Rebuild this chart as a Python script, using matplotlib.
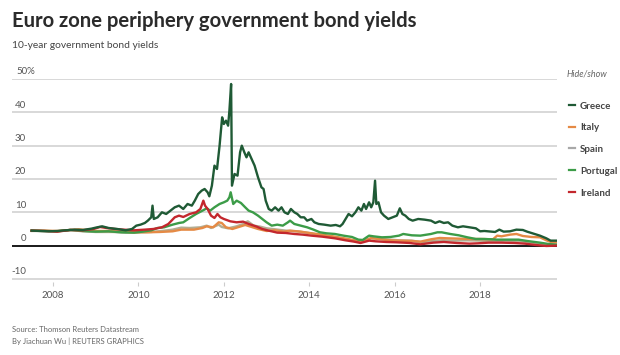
import matplotlib
matplotlib.use("Agg")
import matplotlib.pyplot as plt
from matplotlib.lines import Line2D

# ================= data (decimal years / % yield) =================
greece_x = [2007.50, 2007.70, 2007.90, 2008.10, 2008.30, 2008.50, 2008.70, 2008.90, 2009.00, 2009.15,
            2009.30, 2009.50, 2009.70, 2009.85, 2009.95, 2010.05, 2010.15, 2010.22, 2010.30, 2010.33,
            2010.36, 2010.45, 2010.55, 2010.65, 2010.75, 2010.85, 2010.95, 2011.05, 2011.15, 2011.25,
            2011.32, 2011.40, 2011.48, 2011.55, 2011.62, 2011.66, 2011.72, 2011.78, 2011.84, 2011.90,
            2011.96, 2012.00, 2012.05, 2012.10, 2012.13, 2012.17, 2012.19, 2012.25, 2012.32, 2012.38,
            2012.42, 2012.48, 2012.53, 2012.58, 2012.65, 2012.72, 2012.80, 2012.88, 2012.93, 2012.98,
            2013.05, 2013.12, 2013.20, 2013.28, 2013.35, 2013.42, 2013.50, 2013.57, 2013.65, 2013.72,
            2013.80, 2013.88, 2013.95, 2014.05, 2014.12, 2014.22, 2014.35, 2014.50, 2014.62, 2014.72,
            2014.78, 2014.85, 2014.92, 2015.00, 2015.08, 2015.15, 2015.22, 2015.28, 2015.33, 2015.40,
            2015.45, 2015.50, 2015.54, 2015.57, 2015.62, 2015.68, 2015.75, 2015.85, 2015.95, 2016.05,
            2016.12, 2016.18, 2016.25, 2016.33, 2016.42, 2016.55, 2016.70, 2016.85, 2016.95, 2017.05,
            2017.15, 2017.25, 2017.35, 2017.48, 2017.60, 2017.75, 2017.90, 2018.00, 2018.10, 2018.25,
            2018.35, 2018.45, 2018.55, 2018.70, 2018.85, 2019.00, 2019.10, 2019.25, 2019.40, 2019.55,
            2019.65, 2019.78]
greece_y = [4.5, 4.4, 4.3, 4.4, 4.6, 4.8, 4.7, 5.1, 5.4, 5.8,
            5.3, 5.0, 4.6, 5.0, 6.0, 6.3, 6.8, 7.5, 8.5, 12.0,
            8.0, 8.5, 10.0, 9.5, 10.5, 11.5, 12.0, 11.0, 12.5, 12.0,
            13.5, 15.5, 16.5, 17.0, 16.0, 14.8, 18.0, 24.0, 23.0, 30.0,
            38.5, 36.5, 37.5, 36.0, 40.5, 48.5, 18.0, 21.5, 21.0, 28.0,
            30.0, 28.0, 26.5, 28.0, 26.0, 24.0, 20.5, 17.5, 17.0, 13.5,
            11.0, 10.5, 11.5, 10.5, 11.5, 10.0, 9.5, 11.0, 10.0, 9.5,
            8.5, 8.5, 7.5, 8.0, 7.0, 6.5, 6.3, 6.0, 6.2, 5.8,
            6.5, 8.0, 9.5, 8.8, 10.0, 11.5, 10.5, 12.5, 11.0, 13.0,
            11.5, 13.0, 19.5, 12.5, 13.0, 10.0, 9.0, 8.0, 8.5, 9.0,
            11.2, 9.5, 9.0, 8.0, 7.5, 8.0, 7.8, 7.5, 6.8, 7.3,
            6.8, 7.0, 6.0, 5.5, 5.8, 5.5, 5.2, 4.3, 4.4, 4.2,
            4.1, 4.8, 4.2, 4.3, 4.8, 4.7, 4.2, 3.6, 3.0, 2.2,
            1.5, 1.5]

italy_x = [2007.50, 2007.80, 2008.10, 2008.40, 2008.60, 2008.85, 2009.00, 2009.30, 2009.60, 2009.90,
           2010.20, 2010.50, 2010.80, 2011.00, 2011.30, 2011.50, 2011.60, 2011.75, 2011.88, 2011.95,
           2012.05, 2012.20, 2012.35, 2012.50, 2012.60, 2012.80, 2013.00, 2013.20, 2013.40, 2013.55,
           2013.80, 2014.00, 2014.30, 2014.60, 2014.90, 2015.10, 2015.25, 2015.45, 2015.60, 2015.90,
           2016.10, 2016.40, 2016.60, 2016.85, 2017.05, 2017.25, 2017.50, 2017.75, 2018.00, 2018.30,
           2018.40, 2018.50, 2018.70, 2018.85, 2019.00, 2019.20, 2019.40, 2019.55, 2019.68, 2019.78]
italy_y = [4.5, 4.5, 4.4, 4.7, 4.9, 4.6, 4.4, 4.4, 4.2, 4.0,
           4.0, 4.1, 4.3, 4.8, 4.8, 5.3, 5.8, 5.5, 7.0, 6.8,
           5.5, 5.0, 5.6, 6.2, 5.8, 5.0, 4.4, 4.6, 4.2, 4.5,
           4.2, 3.8, 3.3, 2.7, 2.0, 1.5, 1.3, 2.3, 2.0, 1.6,
           1.5, 1.4, 1.2, 1.9, 2.3, 2.2, 2.1, 2.0, 2.0, 1.9,
           3.0, 2.8, 3.3, 3.5, 2.9, 2.6, 2.5, 1.6, 1.0, 1.0]

spain_x = [2007.50, 2007.80, 2008.10, 2008.40, 2008.70, 2009.00, 2009.40, 2009.70, 2010.00, 2010.30,
           2010.55, 2010.80, 2011.00, 2011.20, 2011.45, 2011.60, 2011.70, 2011.88, 2011.95, 2012.10,
           2012.30, 2012.45, 2012.56, 2012.70, 2012.85, 2013.00, 2013.20, 2013.45, 2013.70, 2014.00,
           2014.30, 2014.60, 2014.90, 2015.10, 2015.25, 2015.45, 2015.60, 2015.90, 2016.10, 2016.40,
           2016.65, 2016.90, 2017.10, 2017.40, 2017.70, 2018.00, 2018.30, 2018.60, 2018.85, 2019.10,
           2019.40, 2019.60, 2019.78]
spain_y = [4.4, 4.4, 4.3, 4.7, 4.3, 4.1, 4.1, 3.9, 4.0, 4.1,
           4.4, 4.8, 5.4, 5.3, 5.5, 6.0, 5.3, 6.3, 5.6, 5.2,
           5.8, 6.5, 7.3, 6.0, 5.7, 5.2, 4.9, 4.5, 4.3, 3.8,
           3.0, 2.5, 1.8, 1.3, 1.3, 2.2, 2.1, 1.8, 1.6, 1.5,
           1.0, 1.4, 1.6, 1.5, 1.6, 1.5, 1.3, 1.5, 1.4, 1.1,
           0.6, 0.3, 0.3]

portugal_x = [2007.50, 2007.80, 2008.10, 2008.40, 2008.70, 2009.00, 2009.30, 2009.60, 2009.90, 2010.10,
              2010.30, 2010.45, 2010.60, 2010.80, 2010.95, 2011.05, 2011.20, 2011.35, 2011.50, 2011.60,
              2011.68, 2011.78, 2011.90, 2012.00, 2012.08, 2012.13, 2012.16, 2012.22, 2012.30, 2012.40,
              2012.50, 2012.58, 2012.68, 2012.80, 2012.90, 2013.00, 2013.12, 2013.25, 2013.38, 2013.50,
              2013.55, 2013.65, 2013.80, 2013.95, 2014.10, 2014.25, 2014.40, 2014.60, 2014.80, 2015.00,
              2015.15, 2015.25, 2015.40, 2015.50, 2015.70, 2015.90, 2016.10, 2016.20, 2016.40, 2016.60,
              2016.85, 2017.00, 2017.10, 2017.30, 2017.50, 2017.70, 2017.90, 2018.10, 2018.40, 2018.70,
              2018.90, 2019.10, 2019.40, 2019.60, 2019.78]
portugal_y = [4.5, 4.4, 4.3, 4.7, 4.4, 4.2, 4.3, 4.0, 3.9, 4.2,
              4.6, 5.3, 5.5, 6.3, 6.8, 7.0, 8.3, 9.5, 10.5, 11.2,
              10.5, 11.5, 12.5, 13.0, 13.5, 14.5, 16.0, 12.5, 13.5, 12.8,
              11.5, 10.5, 10.0, 9.0, 8.0, 7.0, 6.0, 6.3, 6.0, 7.0,
              7.5, 6.5, 6.0, 5.5, 4.8, 4.0, 3.7, 3.5, 3.0, 2.6,
              1.8, 1.7, 3.0, 2.8, 2.5, 2.6, 3.0, 3.5, 3.1, 3.0,
              3.5, 4.0, 4.0, 3.5, 3.1, 2.5, 2.0, 2.0, 1.8, 1.8,
              1.8, 1.4, 0.9, 0.5, 0.3]

ireland_x = [2007.50, 2007.80, 2008.10, 2008.40, 2008.70, 2008.95, 2009.10, 2009.25, 2009.45, 2009.65,
             2009.90, 2010.15, 2010.35, 2010.55, 2010.70, 2010.85, 2010.95, 2011.05, 2011.20, 2011.35,
             2011.45, 2011.52, 2011.56, 2011.62, 2011.70, 2011.78, 2011.85, 2011.92, 2012.00, 2012.15,
             2012.30, 2012.45, 2012.58, 2012.75, 2012.90, 2013.05, 2013.25, 2013.45, 2013.65, 2013.85,
             2014.05, 2014.30, 2014.60, 2014.85, 2015.05, 2015.20, 2015.40, 2015.55, 2015.80, 2016.05,
             2016.35, 2016.60, 2016.90, 2017.15, 2017.45, 2017.75, 2017.95, 2018.20, 2018.50, 2018.80,
             2019.05, 2019.30, 2019.55, 2019.78]
ireland_y = [4.5, 4.4, 4.2, 4.7, 4.6, 5.0, 5.6, 5.3, 5.0, 4.8,
             4.6, 4.8, 5.0, 5.5, 6.5, 8.5, 9.0, 8.6, 9.5, 10.0,
             11.0, 13.5, 12.0, 11.0, 9.0, 8.3, 9.5, 8.5, 8.0, 7.3,
             7.0, 7.2, 6.5, 5.8, 5.0, 4.5, 3.9, 3.8, 3.5, 3.3,
             3.0, 2.7, 2.2, 1.6, 1.2, 0.8, 1.5, 1.3, 1.1, 1.0,
             0.8, 0.4, 0.9, 1.1, 0.8, 0.6, 0.7, 0.9, 0.9, 0.8,
             0.6, 0.2, -0.1, 0.0]

countries = ["Greece", "Italy", "Spain", "Portugal", "Ireland"]
colors = {"Greece": "#1f5a35", "Italy": "#e58a45", "Spain": "#b3ad92",
          "Portugal": "#3c9c48", "Ireland": "#c3272d"}
legend_colors = {"Greece": "#1f5a35", "Italy": "#e58a45", "Spain": "#a8a8a8",
                 "Portugal": "#3c9c48", "Ireland": "#c3272d"}
series = {"Greece": (greece_x, greece_y), "Italy": (italy_x, italy_y), "Spain": (spain_x, spain_y),
          "Portugal": (portugal_x, portugal_y), "Ireland": (ireland_x, ireland_y)}
year_ticks = [2008, 2010, 2012, 2014, 2016, 2018]
y_ticks = [-10, 0, 10, 20, 30, 40, 50]

W, H = 620, 355
FONT = "Lato"


def fx(px):
    return px / W


def fy(py):
    return 1 - py / H


fig = plt.figure(figsize=(W / 100, H / 100), dpi=100)
fig.patch.set_facecolor("white")

# plot area: x 12..557 px, y(50)=79 px, y(-11)=282 px
ax = fig.add_axes([fx(12), fy(282.3), fx(557) - fx(12), fy(79) - fy(282.3)])
ax.set_xlim(2007.04, 2019.80)
ax.set_ylim(-11, 50)

for s in ax.spines.values():
    s.set_visible(False)

ax.set_yticks(y_ticks)
ax.set_yticklabels([])
ax.tick_params(axis="y", length=0)
ax.yaxis.grid(True, color="#d6d6d6", lw=1.3)
ax.set_axisbelow(True)

ax.set_xticks(year_ticks)
ax.set_xticklabels([str(t) for t in year_ticks], fontsize=7, color="#555555", fontfamily=FONT)
ax.tick_params(axis="x", length=3, color="#cccccc", pad=3)

for v in y_ticks:
    if v == 50:
        ax.annotate("50%", xy=(4 / 545, v), xycoords=("axes fraction", "data"),
                    xytext=(0, 2), textcoords="offset points", ha="left", va="bottom",
                    fontsize=7, color="#555555", fontfamily=FONT)
    else:
        ax.annotate(str(v), xy=(14 / 545, v), xycoords=("axes fraction", "data"),
                    xytext=(0, 2), textcoords="offset points", ha="right", va="bottom",
                    fontsize=7, color="#555555", fontfamily=FONT)

ax.axhline(0, color="#1a1a1a", lw=1.4, zorder=2)

for name in ["Spain", "Italy", "Portugal", "Ireland", "Greece"]:
    xs, ys = series[name]
    ax.plot(xs, ys, color=colors[name], lw=1.7, zorder=3, solid_joinstyle="round")

# titles
fig.text(fx(12), fy(21), "Euro zone periphery government bond yields", fontsize=14.6,
         fontweight="bold", color="#2b2b2b", ha="left", va="center", fontfamily=FONT)
fig.text(fx(12), fy(46), "10-year government bond yields", fontsize=7.4,
         color="#444444", ha="left", va="center", fontfamily=FONT)

# legend
fig.text(fx(567), fy(74), "Hide/show", fontsize=6.5, style="italic", color="#666666",
         ha="left", va="center", fontfamily=FONT)
leg_y = [106, 128, 149, 171, 193]
for name, py in zip(countries, leg_y):
    fig.add_artist(Line2D([fx(569), fx(575)], [fy(py - 1), fy(py - 1)],
                          color=legend_colors[name], lw=1.6, transform=fig.transFigure))
    fig.text(fx(580), fy(py), name, fontsize=7, fontweight="bold", color="#444444",
             ha="left", va="center", fontfamily=FONT)

# footer
fig.text(fx(12), fy(330), "Source: Thomson Reuters Datastream", fontsize=5.5,
         color="#666666", ha="left", va="center", fontfamily=FONT)
fig.text(fx(12), fy(341), "By Jiachuan Wu | REUTERS GRAPHICS", fontsize=5.5,
         color="#666666", ha="left", va="center", fontfamily=FONT)

fig.savefig("out.png", dpi=100, facecolor="white")
